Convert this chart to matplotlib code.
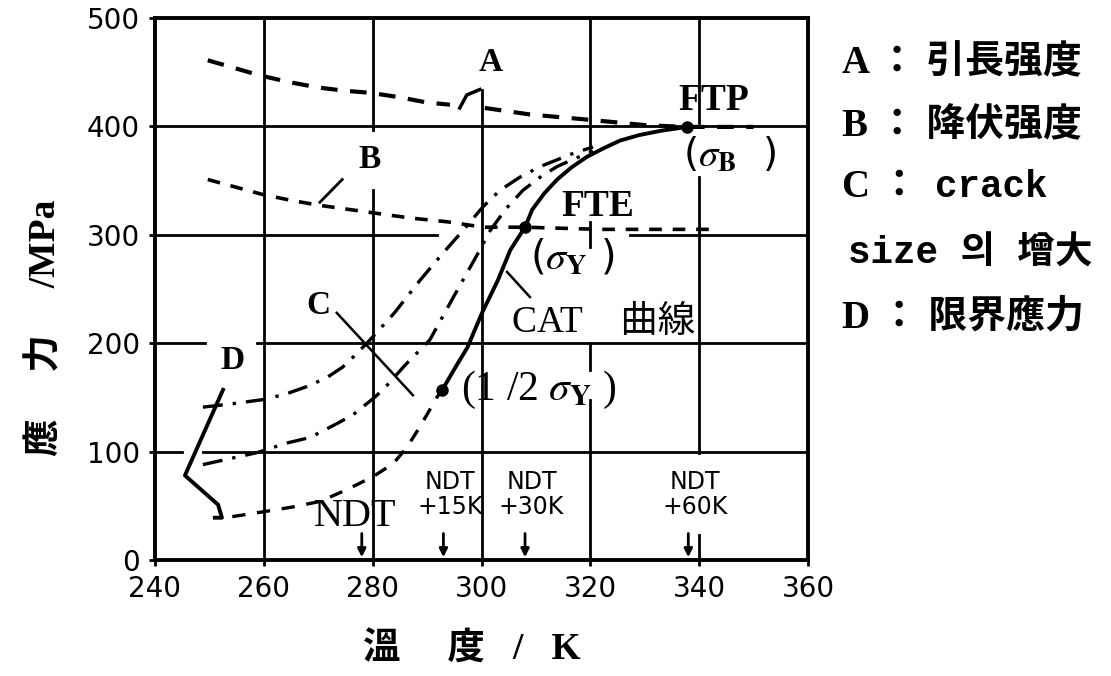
import matplotlib.pyplot as plt

plt.rcParams['mathtext.fontset'] = 'stix'

cjk = ['Liberation Serif', 'Noto Sans CJK JP', 'DejaVu Sans']
mono = ['Liberation Mono', 'Noto Sans CJK JP', 'DejaVu Sans']

# temperature (K) / stress (MPa)
a_left_t = [249.7, 254.5, 259.3, 264.5, 269.8, 274.6, 279.5, 284.8, 290.0, 294.2]
a_left_s = [461, 454, 447, 441, 436, 433, 431, 427, 422, 420]
a_hook_t = [296.0, 297.3, 299.7]
a_hook_s = [417, 429, 434]
a_right_t = [300.6, 308.9, 320.0, 330.4, 337.8, 344.0, 350.0]
a_right_s = [417, 411, 406, 401, 399.5, 399.5, 399.5]

b_t = [249.7, 254.8, 259.9, 264.8, 269.8, 279.0, 286.9, 293.7, 300.3, 308.0, 321.8, 333.0, 343.3]
b_s = [351, 344, 337, 332, 327.5, 321, 315.5, 312, 307, 307, 305, 305, 305]

c1_t = [248.8, 254.0, 259.9, 264.0, 267.9, 271.5, 274.5, 277.0, 279.5, 284.0, 288.7,
        292.9, 296.6, 300.3, 303.4, 307.0, 310.8, 316.8, 320.5]
c1_s = [141, 144, 148, 153, 160, 168, 178, 190, 203, 228, 258, 283, 304, 326, 341,
        353, 363, 375, 381]

c2_t = [248.8, 258.7, 264.3, 268.5, 273.5, 276.4, 280.1, 281.9, 286.0, 290.5, 295.0,
        299.7, 301.6, 304.5, 307.6, 311.0, 313.9, 317.0, 320.5]
c2_s = [88, 99, 108, 113, 126, 134, 149, 157, 180, 203, 244, 286, 304, 324, 341, 354,
        363, 370, 377]

cat_low_t = [254.2, 259.3, 265.4, 270.3, 275.3, 280.1, 283.8, 286.3, 288.7, 291.8, 292.8]
cat_low_s = [40, 44, 49, 54, 65, 77, 89, 104, 123, 150, 157]
cat_t = [292.8, 295.0, 297.4, 300.1, 303.0, 305.3, 306.7, 308.0, 309.3, 311.5, 313.9,
         316.5, 319.4, 322.5, 325.5, 329.0, 333.0, 337.8]
cat_s = [157, 176, 196, 228, 258, 286, 297, 307, 323, 338, 351, 362, 372, 380, 387,
         392, 396, 399.5]

d_t = [252.5, 245.5, 251.6, 252.3, 251.0]
d_s = [157, 78, 51, 39, 39]

ftp = (337.8, 399.5)
fte = (308.0, 307.0)
half_y = (292.8, 157.0)

ndt_temps = [278, 293, 308, 338]
ndt_tags = ['NDT\n+15K', 'NDT\n+30K', 'NDT\n+60K']

xticks = [240, 260, 280, 300, 320, 340, 360]
yticks = [0, 100, 200, 300, 400, 500]

# grid lines, broken where labels and curves sit on them
h_grid = {400: [(240, 360)],
          300: [(240, 291.8), (327.3, 360)],
          200: [(240, 249.2), (258.7, 360)],
          100: [(240, 245.0), (248.8, 360)]}
v_grid = {260: [(0, 500)],
          280: [(0, 341), (397, 500)],
          300: [(0, 434)],
          320: [(0, 148), (175, 200), (289, 312), (378, 500)],
          340: [(0, 23), (99, 353), (403, 500)]}

fig = plt.figure(figsize=(11.11, 6.76), dpi=100)
ax = fig.add_axes([0.1395, 0.1716, 0.5878, 0.8018])
ax.set_xlim(240, 360)
ax.set_ylim(0, 500)

for s, segs in h_grid.items():
    for t0, t1 in segs:
        ax.plot([t0, t1], [s, s], color='k', lw=2.0, zorder=1)
for t, segs in v_grid.items():
    for s0, s1 in segs:
        ax.plot([t, t], [s0, s1], color='k', lw=2.0, zorder=1)

# A: tensile strength, B: yield strength
ax.plot(a_left_t, a_left_s, color='k', lw=3, ls=(0, (4, 3)))
ax.plot(a_hook_t, a_hook_s, color='k', lw=2.5)
ax.plot(a_right_t, a_right_s, color='k', lw=3, ls=(0, (4, 3)))
ax.plot(b_t, b_s, color='k', lw=2.6, ls=(0, (3.5, 3)))

# C: crack size family, D: critical stress
ax.plot(c1_t, c1_s, color='k', lw=2.4, ls=(0, (6, 3, 1, 3)))
ax.plot(c2_t, c2_s, color='k', lw=2.4, ls=(0, (6, 3, 1, 3)))
ax.plot(cat_low_t, cat_low_s, color='k', lw=2.4, ls=(0, (4, 3.5)))
ax.plot(cat_t, cat_s, color='k', lw=2.8)
ax.plot(d_t, d_s, color='k', lw=2.8)

for p in (ftp, fte, half_y):
    ax.plot(*p, 'o', color='k', ms=8, zorder=5)

# pointer strokes
ax.plot([274.4, 270.3], [351, 330], color='k', lw=2)
ax.plot([273.4, 287.4], [228, 152], color='k', lw=1.8)
ax.plot([304.7, 308.9], [265.7, 242.6], color='k', lw=1.8)

for t in ndt_temps:
    ax.annotate('', xy=(t, 0), xytext=(t, 27),
                arrowprops=dict(arrowstyle='-|>', color='k', lw=2, mutation_scale=12))

serif_b = dict(family='Liberation Serif', weight='bold', ha='center', va='center')
ax.text(301.6, 459, 'A', fontsize=24, **serif_b)
ax.text(279.5, 369, 'B', fontsize=24, **serif_b)
ax.text(270.0, 235, 'C', fontsize=24, **serif_b)
ax.text(254.2, 184, 'D', fontsize=24, **serif_b)
ax.text(342.6, 424, 'FTP', fontsize=27, **serif_b)
ax.text(321.4, 326, 'FTE', fontsize=27, **serif_b)
ax.text(345.6, 373, r'($\sigma_{\mathbf{B}}$  )', fontsize=28, ha='center', va='center')
ax.text(316.8, 279, r'($\sigma_{\mathbf{Y}}$ )', fontsize=29, ha='center', va='center')
ax.text(296.3, 157, r'(1 /2 $\sigma_{\mathbf{Y}}$ )', fontsize=30, ha='left', va='center',
        family='Liberation Serif')
ax.text(305.6, 219, 'CAT\u2003曲線', fontsize=27, ha='left', va='center', family=cjk)
ax.text(276.8, 40, 'NDT', fontsize=29, ha='center', va='center', family='Liberation Serif')
for t, tag in zip(ndt_temps[1:], ndt_tags):
    ax.text(t + 1.2, 60, tag, fontsize=17, ha='center', va='center',
            family='DejaVu Sans', linespacing=1.05)

ax.set_xticks(xticks)
ax.set_yticks(yticks)
ax.tick_params(labelsize=20, length=4, width=2, direction='out', pad=7)
for sp in ax.spines.values():
    sp.set_linewidth(2.8)

fig.text(0.041, 0.515, '應\u3000 力\u3000 /MPa', rotation=90, fontsize=27, ha='center',
         va='center', family=cjk, weight='bold')
fig.text(0.425, 0.038, '溫\u3000 度\u2002 / \u2002K', fontsize=27, ha='center', va='center',
         family=cjk, weight='bold')

# key on the right
kx = 0.758
fig.text(kx, 0.906, 'A ： 引長强度', fontsize=28, ha='left', va='center', family=cjk, weight='bold')
fig.text(kx, 0.812, 'B ： 降伏强度', fontsize=28, ha='left', va='center', family=cjk, weight='bold')
fig.text(kx, 0.723, 'C ：', fontsize=28, ha='left', va='center', family=cjk, weight='bold')
fig.text(0.842, 0.723, 'crack', fontsize=27, ha='left', va='center', family=mono, weight='bold')
fig.text(kx + 0.005, 0.625, 'size 의 增大', fontsize=27, ha='left', va='center',
         family=mono, weight='bold')
fig.text(kx, 0.530, 'D ： 限界應力', fontsize=28, ha='left', va='center', family=cjk, weight='bold')

fig.savefig('out.png', dpi=100)
